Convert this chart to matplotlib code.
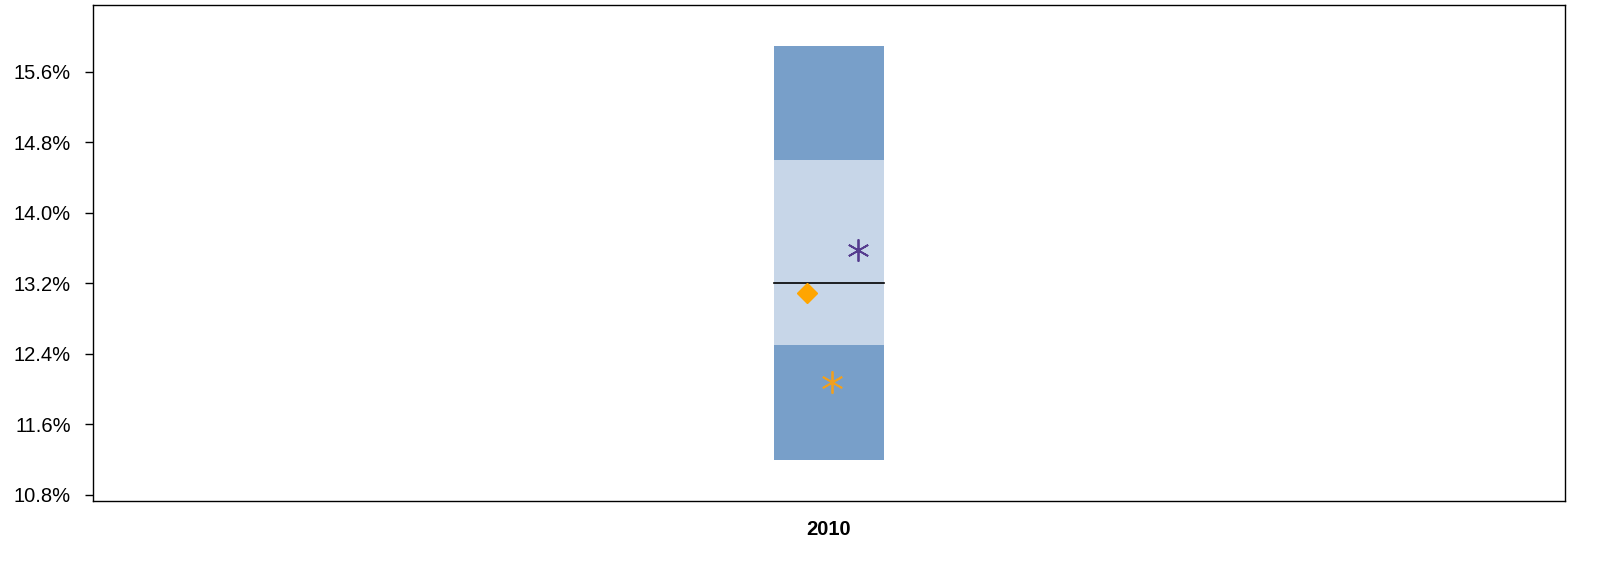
import matplotlib
matplotlib.use("Agg")
import matplotlib.pyplot as plt

plt.rcParams['font.family'] = ['Liberation Sans', 'DejaVu Sans']

categories = ["2010"]
outer_low = [11.2]
inner_low = [12.5]
median = [13.2]
inner_high = [14.6]
outer_high = [15.9]
diamond_vals = [13.09]
purple_star = [13.58]
orange_star = [12.08]
yticks = [10.8, 11.6, 12.4, 13.2, 14.0, 14.8, 15.6]

fig = plt.figure(figsize=(16.21, 5.61), dpi=100)
ax = fig.add_axes([93/1621, 1-501/561, (1565-93)/1621, (501-5)/561])

w = 0.15
for i, c in enumerate(categories):
    ax.bar(i, outer_high[i]-outer_low[i], bottom=outer_low[i], width=w, color='#789FC9', zorder=1)
    ax.bar(i, inner_high[i]-inner_low[i], bottom=inner_low[i], width=w, color='#C7D6E8', zorder=2)
    ax.plot([i-w/2, i+w/2], [median[i], median[i]], color='black', lw=1.2, zorder=3)
    ax.plot(i-0.03, diamond_vals[i], marker='D', color='#FFA500', markersize=10, ls='none', zorder=4)
    ax.plot(i+0.039, purple_star[i], marker=(6, 2, 0), color='#553C8E', markersize=16, mew=1.3, ls='none', zorder=4)
    ax.plot(i+0.004, orange_star[i], marker=(6, 2, 0), color='#F0A020', markersize=16, mew=1.3, ls='none', zorder=4)

ax.set_xlim(-1, 1)
ax.set_ylim(10.73, 16.36)
ax.set_yticks(yticks)
ax.set_yticklabels([f"{v:.1f}%" for v in yticks], fontsize=14.5)
ax.set_xticks(range(len(categories)))
ax.set_xticklabels(categories, fontsize=14.5, fontweight='bold')
ax.tick_params(axis='x', length=0, pad=14)
ax.tick_params(axis='y', length=6, width=1, pad=10)
for s in ax.spines.values():
    s.set_linewidth(1)

fig.savefig("out.png", dpi=100)
